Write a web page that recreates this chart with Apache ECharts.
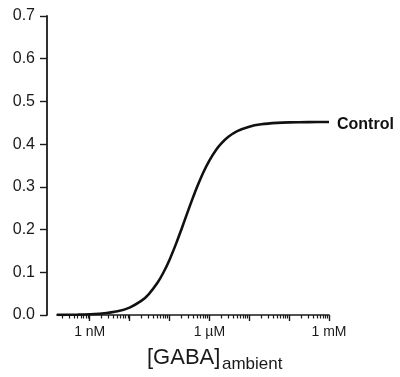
<!DOCTYPE html>
<html>
<head>
<meta charset="utf-8">
<script src="https://cdn.jsdelivr.net/npm/echarts@6/dist/echarts.min.js"></script>
<style>
  html, body { margin: 0; padding: 0; background: #fff; }
  #chart { width: 400px; height: 377px; }
</style>
</head>
<body>
<div id="chart"></div>
<script>
// GABA concentration (M) and response
const concM = [1.5e-10, 5e-10, 1e-9, 2e-9, 5e-9, 1e-8, 2e-8, 3e-8, 5e-8, 7e-8,
  1e-7, 1.5e-7, 2e-7, 3e-7, 4e-7, 5e-7, 7e-7, 1e-6, 1.5e-6, 2e-6,
  3e-6, 5e-6, 1e-5, 2e-5, 5e-5, 1e-4, 3e-4, 1e-3];
const controlResp = [0.0003, 0.0009, 0.0018, 0.0036, 0.0089, 0.0174, 0.0335, 0.0484, 0.0753, 0.0989,
  0.129, 0.1695, 0.2009, 0.2466, 0.2782, 0.3013, 0.3331, 0.3616, 0.3874, 0.4018,
  0.4172, 0.4305, 0.441, 0.4464, 0.4498, 0.4509, 0.4515, 0.4519];

// x axis range (log10 M) and tick labels
const xMinLog = -9.82;
const xMaxLog = -3;
const decadeLogs = [-9, -8, -7, -6, -5, -4, -3];
const labelLogs = [-9, -6, -3];
const labelText = { "-9": "1 nM", "-6": "1 \u00b5M", "-3": "1 mM" };
const minorMultipliers = [2, 3, 4, 5, 6, 7, 8, 9];

const minorLogs = [];
[-10, ...decadeLogs].forEach((d) => {
  minorMultipliers.forEach((m) => {
    const v = d + Math.log10(m);
    if (v > xMinLog && v < xMaxLog) minorLogs.push(v);
  });
});

const chart = echarts.init(document.getElementById("chart"), null, { renderer: "canvas" });

const fontFam = "'Liberation Sans', Arial, sans-serif";
const ink = "#1a1a1a";

const option = {
  backgroundColor: "#fff",
  animation: false,
  grid: { left: 57, right: 71, top: 16, bottom: 62 },
  xAxis: [
    {
      type: "value",
      min: xMinLog,
      max: xMaxLog,
      position: "bottom",
      axisLine: { show: true, lineStyle: { color: ink, width: 1.6 } },
      axisTick: { show: true, length: 6, customValues: decadeLogs, lineStyle: { color: ink, width: 1.4 } },
      axisLabel: {
        show: true,
        customValues: labelLogs,
        margin: 10,
        color: ink,
        fontSize: 14,
        fontFamily: fontFam,
        formatter: (v) => labelText[String(Math.round(v))] || "",
      },
      splitLine: { show: false },
    },
    {
      type: "value",
      min: xMinLog,
      max: xMaxLog,
      position: "bottom",
      axisLine: { show: false },
      axisTick: { show: true, length: 3.5, customValues: minorLogs, lineStyle: { color: ink, width: 1.2 } },
      axisLabel: { show: false },
      splitLine: { show: false },
    },
  ],
  yAxis: {
    type: "value",
    min: 0,
    max: 0.7,
    interval: 0.1,
    offset: 10,
    axisLine: { show: true, lineStyle: { color: ink, width: 1.8 } },
    axisTick: { show: true, length: 7, lineStyle: { color: ink, width: 1.4 } },
    axisLabel: {
      margin: 12,
      color: ink,
      fontSize: 16,
      fontFamily: fontFam,
      formatter: (v) => v.toFixed(1),
    },
    splitLine: { show: false },
  },
  series: [
    {
      name: "Control",
      type: "line",
      xAxisIndex: 0,
      smooth: 0.3,
      symbol: "none",
      lineStyle: { color: "#111", width: 2.6 },
      data: concM.map((c, i) => [Math.log10(c), controlResp[i]]),
      endLabel: {
        show: true,
        formatter: "Control",
        distance: 8,
        offset: [0, 3],
        color: "#111",
        fontSize: 16,
        fontWeight: "bold",
        fontFamily: fontFam,
      },
    },
  ],
  graphic: [
    {
      type: "text",
      left: 147,
      top: 347,
      style: { text: "[GABA]", font: "22px " + fontFam, fill: ink },
    },
    {
      type: "text",
      left: 222,
      top: 356,
      style: { text: "ambient", font: "17px " + fontFam, fill: ink },
    },
  ],
};

chart.setOption(option);
window.addEventListener("resize", () => chart.resize());
</script>
</body>
</html>
